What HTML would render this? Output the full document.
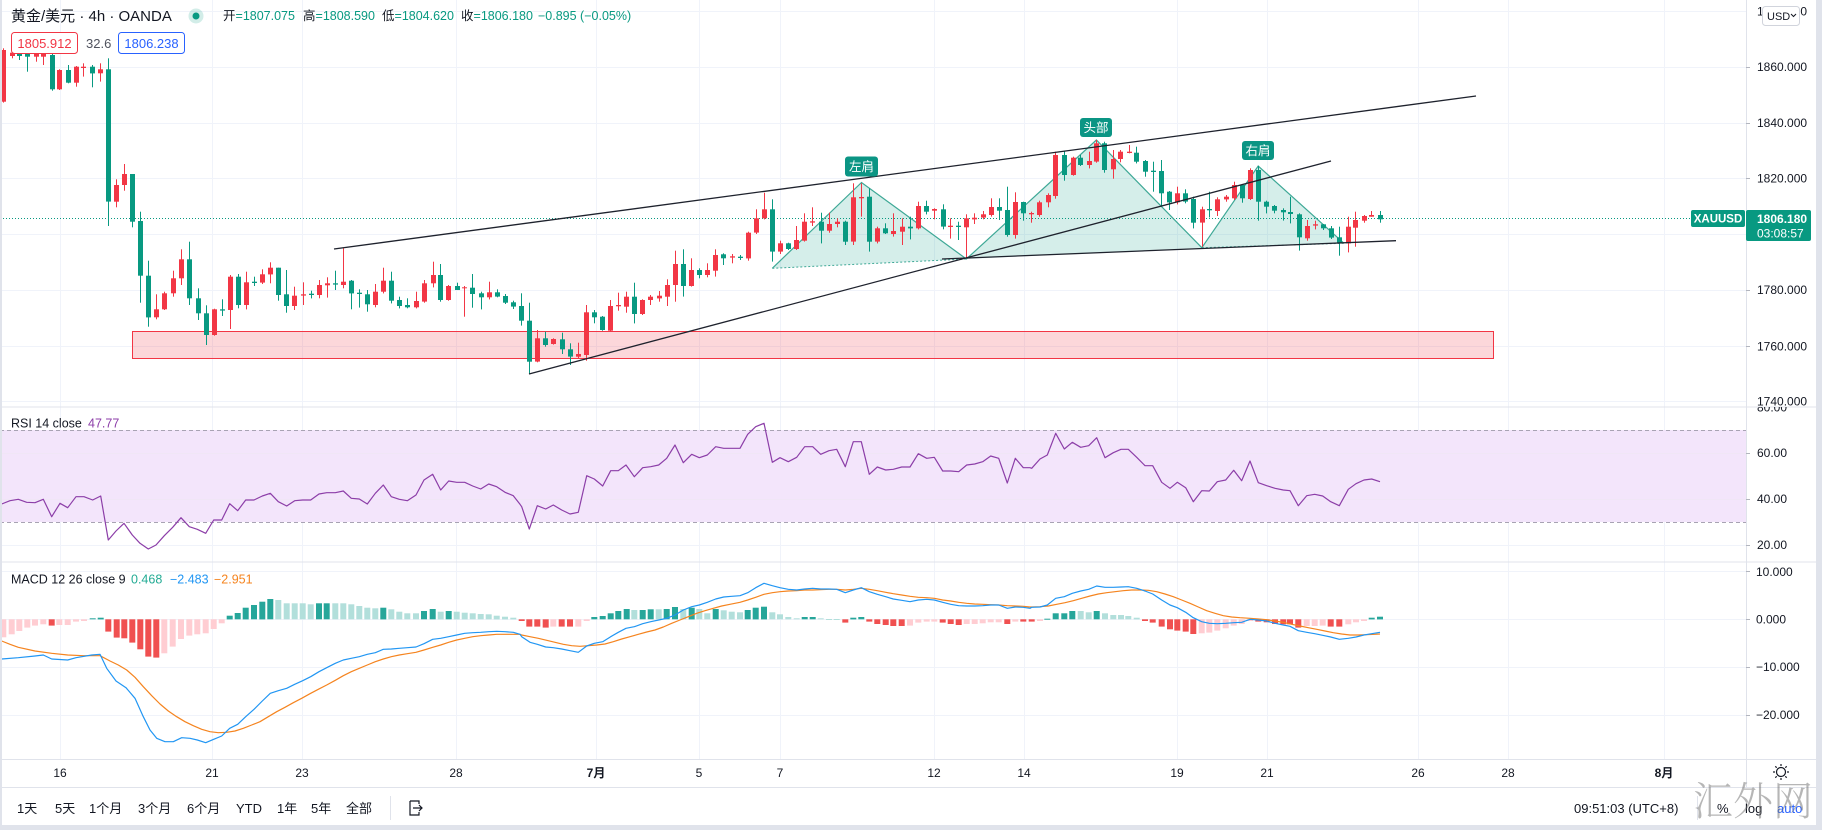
<!DOCTYPE html>
<html><head><meta charset="utf-8">
<style>
html,body{margin:0;padding:0;background:#fff;}
body{width:1822px;height:830px;overflow:hidden;position:relative;}
svg text{font-family:"Liberation Sans","Noto Sans CJK SC",sans-serif;}
</style></head><body>
<svg id="s" width="1822" height="830" viewBox="0 0 1822 830" xmlns="http://www.w3.org/2000/svg">
<defs>
<clipPath id="cp"><rect x="0" y="0" width="1746" height="407"/></clipPath>
<clipPath id="cr"><rect x="0" y="407" width="1746" height="155"/></clipPath>
<clipPath id="cm"><rect x="0" y="562" width="1746" height="197"/></clipPath>
<clipPath id="ap"><rect x="1746" y="0" width="70" height="407"/></clipPath>
<clipPath id="ar"><rect x="1746" y="407" width="70" height="155"/></clipPath>
<clipPath id="am"><rect x="1746" y="562" width="70" height="197"/></clipPath>
</defs>
<rect width="1822" height="830" fill="#fff"/>
<!-- grid -->
<g stroke="#f0f3fa" stroke-width="1">
<line x1="0" y1="11.5" x2="1746" y2="11.5"/><line x1="0" y1="67.5" x2="1746" y2="67.5"/>
<line x1="0" y1="123.5" x2="1746" y2="123.5"/><line x1="0" y1="178.5" x2="1746" y2="178.5"/>
<line x1="0" y1="234.5" x2="1746" y2="234.5"/><line x1="0" y1="290.5" x2="1746" y2="290.5"/>
<line x1="0" y1="346.5" x2="1746" y2="346.5"/><line x1="0" y1="401.5" x2="1746" y2="401.5"/>
<line x1="0" y1="545.5" x2="1746" y2="545.5"/>
<line x1="0" y1="571.5" x2="1746" y2="571.5"/><line x1="0" y1="619.5" x2="1746" y2="619.5"/>
<line x1="0" y1="667.5" x2="1746" y2="667.5"/><line x1="0" y1="715.5" x2="1746" y2="715.5"/>
</g>
<g id="vgrid" stroke="#f0f3fa" stroke-width="1"></g>
<!-- RSI band -->
<rect x="0" y="430" width="1746" height="92" fill="#f3e5fb"/>
<g stroke="#f0e6f6"><line x1="0" y1="453.5" x2="1746" y2="453.5"/><line x1="0" y1="499.5" x2="1746" y2="499.5"/></g>
<line x1="0" y1="430.5" x2="1746" y2="430.5" stroke="#a8a3b3" stroke-dasharray="4,3"/>
<line x1="0" y1="522.5" x2="1746" y2="522.5" stroke="#a8a3b3" stroke-dasharray="4,3"/>

<!-- price pane -->
<g clip-path="url(#cp)">
<rect x="132.5" y="331.5" width="1361" height="27" fill="rgba(242,54,69,0.2)" stroke="#f23645" stroke-width="1"/>
<line x1="0" y1="218.5" x2="1690" y2="218.5" stroke="#089981" stroke-width="1" stroke-dasharray="1,2"/>
<g fill="rgba(8,153,129,0.17)" stroke="none">
<polygon points="772.3,268.3 861.5,182.5 966.4,259"/>
<polygon points="966.4,259 1096.4,140 1201.8,247.7"/>
<polygon points="1201.8,247.7 1258.2,166 1344,243.3"/>
</g>
<polyline points="772.3,268.3 861.5,182.5 966.4,259 1096.4,140 1201.8,247.7 1258.2,166 1344,243.3" fill="none" stroke="#3ea896" stroke-width="1.2"/>
<line x1="772.3" y1="268.3" x2="966.4" y2="259" stroke="#3ea896" stroke-width="1" stroke-dasharray="2,2"/>
<line x1="1201.8" y1="247.7" x2="1344" y2="243.3" stroke="#3ea896" stroke-width="1" stroke-dasharray="2,2"/>
<g id="candles"></g>
<g stroke="#1e222d" stroke-width="1.3">
<line x1="334" y1="249" x2="1476" y2="96"/>
<line x1="529" y1="374" x2="1331" y2="161"/>
<line x1="942" y1="259" x2="1396" y2="240.7"/>
</g>
<g font-size="12.5" fill="#fff" text-anchor="middle">
<rect x="845" y="156.5" width="33" height="20" rx="3" fill="#0b9584"/><text x="861.5" y="171">左肩</text>
<rect x="1080" y="118" width="32" height="19" rx="3" fill="#0b9584"/><text x="1096" y="132">头部</text>
<rect x="1242" y="141" width="32" height="19" rx="3" fill="#0b9584"/><text x="1258" y="155">右肩</text>
</g>
</g>

<!-- RSI -->
<g clip-path="url(#cr)"><polyline id="rsi" fill="none" stroke="#8c3ea8" stroke-width="1.2" stroke-linejoin="round"/></g>
<!-- MACD -->
<g clip-path="url(#cm)">
<g id="hist"></g>
<polyline id="sig" fill="none" stroke="#f5841f" stroke-width="1.2" stroke-linejoin="round"/>
<polyline id="mac" fill="none" stroke="#2196f3" stroke-width="1.2" stroke-linejoin="round"/>
</g>

<!-- separators -->
<g stroke="#e0e3eb" stroke-width="1">
<line x1="0" y1="407" x2="1816" y2="407"/>
<line x1="0" y1="562" x2="1816" y2="562"/>
<line x1="0" y1="759.5" x2="1816" y2="759.5"/>
<line x1="0" y1="787.5" x2="1816" y2="787.5"/>
<line x1="1746.5" y1="0" x2="1746.5" y2="787"/>
</g>

<!-- axis labels -->
<g font-size="12" fill="#131722">
<g clip-path="url(#ap)">
<text x="1757" y="15.5">1880.000</text>
<text x="1757" y="71">1860.000</text>
<text x="1757" y="127">1840.000</text>
<text x="1757" y="182.5">1820.000</text>
<text x="1757" y="238">1800.000</text>
<text x="1757" y="294">1780.000</text>
<text x="1757" y="350.5">1760.000</text>
<text x="1757" y="405.5">1740.000</text>
</g>
<g clip-path="url(#ar)">
<text x="1757" y="411.5">80.00</text>
<text x="1757" y="457">60.00</text>
<text x="1757" y="503">40.00</text>
<text x="1757" y="549">20.00</text>
</g>
<g clip-path="url(#am)">
<text x="1756" y="576">10.000</text>
<text x="1756" y="623.5">0.000</text>
<text x="1756" y="671">−10.000</text>
<text x="1756" y="719">−20.000</text>
</g>
</g>
<g stroke="#b2b5be"><line x1="1746" y1="67.5" x2="1750" y2="67.5"/><line x1="1746" y1="123.5" x2="1750" y2="123.5"/><line x1="1746" y1="178.5" x2="1750" y2="178.5"/><line x1="1746" y1="290.5" x2="1750" y2="290.5"/><line x1="1746" y1="346.5" x2="1750" y2="346.5"/><line x1="1746" y1="453.5" x2="1750" y2="453.5"/><line x1="1746" y1="499.5" x2="1750" y2="499.5"/><line x1="1746" y1="545.5" x2="1750" y2="545.5"/><line x1="1746" y1="571.5" x2="1750" y2="571.5"/><line x1="1746" y1="619.5" x2="1750" y2="619.5"/><line x1="1746" y1="667.5" x2="1750" y2="667.5"/><line x1="1746" y1="715.5" x2="1750" y2="715.5"/></g>

<!-- USD button -->
<rect x="1762.5" y="6.5" width="37" height="19" rx="3" fill="#fff" stroke="#d1d4dc"/>
<text x="1767" y="20" font-size="11" fill="#131722">USD</text>
<path d="M1791 14 l2.5 2.5 l2.5 -2.5" fill="none" stroke="#131722" stroke-width="1"/>

<!-- price labels -->
<rect x="1691" y="210" width="54" height="17" rx="2" fill="#089981"/>
<text x="1718" y="222.5" font-size="11.5" font-weight="bold" fill="#fff" text-anchor="middle">XAUUSD</text>
<rect x="1746" y="210" width="65" height="31" rx="2" fill="#089981"/>
<text x="1757" y="223" font-size="12" font-weight="bold" fill="#fff">1806.180</text>
<text x="1757" y="237.5" font-size="12" fill="#fff">03:08:57</text>

<!-- legends -->
<text x="11" y="21" font-size="15" fill="#131722">黄金/美元 · 4h · OANDA</text>
<circle cx="196" cy="16" r="7.5" fill="rgba(8,153,129,0.18)"/>
<circle cx="196" cy="16" r="3.5" fill="#089981"/>
<g font-size="12.5">
<text x="223" y="20"><tspan fill="#131722">开</tspan><tspan fill="#089981">=1807.075</tspan></text>
<text x="303" y="20"><tspan fill="#131722">高</tspan><tspan fill="#089981">=1808.590</tspan></text>
<text x="382" y="20"><tspan fill="#131722">低</tspan><tspan fill="#089981">=1804.620</tspan></text>
<text x="461" y="20"><tspan fill="#131722">收</tspan><tspan fill="#089981">=1806.180</tspan></text>
<text x="538" y="20" fill="#089981">−0.895 (−0.05%)</text>
</g>
<rect x="11.5" y="32.5" width="66" height="21" rx="3" fill="#fff" stroke="#f23645"/>
<text x="44.5" y="48" font-size="13" fill="#f23645" text-anchor="middle">1805.912</text>
<text x="86" y="48" font-size="13" fill="#50535e">32.6</text>
<rect x="118.5" y="32.5" width="66" height="21" rx="3" fill="#fff" stroke="#2962ff"/>
<text x="151.5" y="48" font-size="13" fill="#2962ff" text-anchor="middle">1806.238</text>

<g font-size="12.5">
<text x="11" y="427.5" fill="#131722">RSI 14 close</text>
<text x="88" y="427.5" fill="#8c3ea8">47.77</text>
<text x="11" y="583.5" fill="#131722">MACD 12 26 close 9</text>
<text x="131" y="583.5" fill="#22ab94">0.468</text>
<text x="170" y="583.5" fill="#2196f3">−2.483</text>
<text x="214" y="583.5" fill="#f5841f">−2.951</text>
</g>

<!-- time axis -->
<g font-size="12" fill="#131722" text-anchor="middle">
<text x="60" y="777">16</text><text x="212" y="777">21</text><text x="302" y="777">23</text>
<text x="456" y="777">28</text><text x="596" y="777" font-weight="bold">7月</text><text x="699" y="777">5</text>
<text x="780" y="777">7</text><text x="934" y="777">12</text><text x="1024" y="777">14</text>
<text x="1177" y="777">19</text><text x="1267" y="777">21</text><text x="1418" y="777">26</text>
<text x="1508" y="777">28</text><text x="1664" y="777" font-weight="bold">8月</text>
</g>
<g transform="translate(1781,772)" stroke="#131722" stroke-width="1.2" fill="none">
<circle r="4.5"/>
<line x1="0" y1="-6" x2="0" y2="-8"/><line x1="0" y1="6" x2="0" y2="8"/>
<line x1="-6" y1="0" x2="-8" y2="0"/><line x1="6" y1="0" x2="8" y2="0"/>
<line x1="4.3" y1="4.3" x2="5.7" y2="5.7"/><line x1="-4.3" y1="-4.3" x2="-5.7" y2="-5.7"/>
<line x1="4.3" y1="-4.3" x2="5.7" y2="-5.7"/><line x1="-4.3" y1="4.3" x2="-5.7" y2="5.7"/>
</g>

<!-- toolbar -->
<g font-size="13" fill="#131722">
<text x="17" y="813">1天</text><text x="55" y="813">5天</text><text x="89" y="813">1个月</text>
<text x="138" y="813">3个月</text><text x="187" y="813">6个月</text><text x="236" y="813">YTD</text>
<text x="277" y="813">1年</text><text x="311" y="813">5年</text><text x="346" y="813">全部</text>
<text x="1574" y="813">09:51:03 (UTC+8)</text>
<text x="1717" y="813">%</text>
<text x="1745" y="813">log</text>
<text x="1777" y="813" fill="#2962ff">auto</text>
</g>
<line x1="390.5" y1="796" x2="390.5" y2="820" stroke="#e0e3eb"/>
<line x1="1697.5" y1="796" x2="1697.5" y2="820" stroke="#e0e3eb"/>
<path d="M410 801 h9 v3 M410 801 v14 h9 v-3 M413 808 h9 M419 805 l3 3 l-3 3" fill="none" stroke="#131722" stroke-width="1.2"/>
<text x="1693" y="815" font-size="40" fill="rgba(110,110,110,0.5)" style="font-family:'Noto Serif CJK SC','Liberation Serif',serif;font-weight:300">汇外网</text>

<!-- frame -->
<rect x="1816" y="0" width="6" height="830" fill="#e0e3eb"/>
<rect x="0" y="825" width="1822" height="5" fill="#e0e3eb"/>
<rect x="0" y="0" width="2" height="830" fill="#e0e3eb"/>
</svg>
<script>
(function(){
var NS='http://www.w3.org/2000/svg';
function el(t,a,p){var e=document.createElementNS(NS,t);for(var k in a)e.setAttribute(k,a[k]);p.appendChild(e);return e;}
var vg=document.getElementById('vgrid');
[60,212,302,456,596,699,780,934,1024,1177,1267,1418,1508,1664].forEach(function(x){el('line',{x1:x+0.5,y1:0,x2:x+0.5,y2:759},vg);});
var segs=[
{ox:0,oy:30,sx:3,sy:3,d:[
[10,'r',60,215,55,218],[35,'r',68,78,60,85],[58,'g',70,78,62,90],[82,'g',72,80,68,125],[107,'r',72,80,68,95],[130,'r',72,80,68,105],
[155,'g',75,178,72,182],[178,'r',120,178,118,180],[203,'g',120,158,105,160],[227,'r',110,158,108,170],[250,'r',110,114,100,140],
[276,'g',110,130,105,172],[300,'r',118,130,100,155],[325,'g',118,515,85,588],[349,'r',465,515,448,532],[373,'r',432,465,402,482],
[397,'g',432,575,432,592],[421,'g',573,737,545,818],[445,'g',737,862,692,890],[469,'r',838,862,793,868],[493,'r',790,838,785,840],
[519,'r',745,790,722,800],[544,'r',688,745,658,765],[568,'g',688,805,635,825],[593,'g',805,850,775,870],[617,'g',850,915,826,945],
[641,'r',838,915,836,917],[665,'g',838,842,808,858],[689,'r',740,840,735,897],[713,'g',740,825,732,835],[737,'r',757,825,725,838],
[763,'g',755,759,740,768],[787,'r',733,758,718,762],[811,'r',713,733,697,760],[835,'g',713,795,713,812],[859,'g',793,828,720,848],
[883,'r',797,828,770,840],[908,'r',793,797,757,825],[932,'g',791,795,782,805],[956,'r',765,795,750,805],[980,'r',760,766,742,803],
[1006,'g',760,764,722,780],[1030,'r',755,765,655,775],[1054,'g',752,790,750,838],[1078,'g',788,792,778,833],[1102,'g',793,823,780,845],
[1126,'r',785,825,762,832],[1150,'r',752,785,713,790],[1174,'g',752,812,725,820],[1198,'g',810,828,800,835],[1222,'g',825,832,805,835],
[1248,'r',813,832,785,835],[1272,'r',760,815,750,818],[1298,'r',735,760,695,772]]},
{ox:430,oy:150,sx:3,sy:3,d:[
[30,'g',375,450,342,455],[55,'r',408,450,405,452],[80,'g',408,420,398,420],[103,'r',412,415,408,500],[127,'g',413,432,372,473],
[152,'g',430,442,425,478],[176,'r',427,442,395,448],[201,'g',427,440,418,442],[226,'g',438,458,432,462],[250,'g',457,470,452,477],
[274,'g',468,512,430,527],[298,'g',512,635,458,672],[322,'r',565,635,540,637],[346,'g',565,585,545,590],[370,'r',567,582,565,584],
[395,'g',568,598,548,612],[419,'g',598,620,580,645],[443,'r',612,620,578,625],[468,'r',487,615,465,632],[493,'g',487,502,480,520],
[517,'g',500,540,498,542],[541,'r',468,542,450,545],[565,'r',465,469,428,482],[589,'r',440,470,425,488],[612,'g',440,492,398,520],
[637,'r',450,492,448,495],[661,'r',440,450,435,465],[687,'r',437,445,423,455],[711,'r',405,440,388,468],[736,'r',342,405,302,455],
[760,'g',342,408,298,440],[784,'r',360,408,325,410],[808,'g',360,375,355,385],[832,'r',360,375,340,382],[856,'r',315,362,298,380],
[880,'g',313,325,310,345],[905,'r',319,323,312,340],[930,'g',320,324,315,330],[955,'r',248,325,245,332],[979,'r',205,248,178,252],
[1003,'r',178,205,128,208],[1027,'g',178,305,148,335],[1051,'r',280,305,272,312],[1075,'g',280,297,278,300],[1099,'r',270,297,228,300],
[1123,'r',215,272,190,275],[1147,'r',214,218,172,228],[1173,'g',215,242,188,280],[1197,'r',222,242,188,248],[1221,'r',215,222,205,232],
[1246,'g',215,275,212,285],[1270,'r',142,275,100,285],[1294,'r',141,145,100,200]]},
{ox:860,oy:80,sx:2.8,sy:3,d:[
[25,'g',350,485,325,515],[48,'r',445,485,440,490],[70,'g',445,460,430,462],[93,'r',453,462,400,470],[118,'r',440,455,415,495],
[140,'g',440,445,410,478],[163,'r',378,445,365,448],[185,'g',378,395,362,403],[208,'r',387,392,385,418],[231,'g',388,440,373,448],
[253,'r',437,441,415,476],[275,'g',437,441,425,480],[298,'r',415,442,403,535],[320,'r',413,418,400,432],[345,'r',403,413,393,418],
[367,'r',381,405,355,410],[390,'g',381,392,355,420],[412,'g',390,465,320,470],[434,'r',366,465,337,476],[457,'g',366,400,365,422],
[480,'r',399,403,395,428],[502,'r',367,405,362,410],[525,'r',345,367,340,382],[547,'r',225,348,215,356],[572,'g',225,285,212,302],
[595,'r',233,285,230,287],[617,'g',233,255,225,258],[640,'r',243,255,215,265],[662,'r',190,245,180,248],[684,'g',190,270,185,278],
[707,'r',237,268,210,296],[729,'r',215,237,210,247],[752,'r',215,219,195,220],[774,'g',218,245,200,250],[797,'g',243,275,240,290],
[820,'g',272,276,245,335],[843,'g',273,340,240,380],[866,'g',335,367,333,390],[888,'r',340,367,320,373],[910,'g',340,365,328,370],
[933,'g',357,428,350,445],[957,'r',388,428,380,500],[978,'g',387,391,335,412],[1000,'r',358,393,352,408],[1024,'r',350,358,345,365],
[1047,'r',315,355,305,360],[1070,'g',315,355,312,368],[1093,'r',270,357,265,360],[1115,'g',270,365,258,422],[1138,'g',365,380,362,400],
[1160,'g',378,392,375,400],[1183,'g',390,397,385,422],[1205,'g',396,402,350,430],[1228,'g',403,472,400,512],[1252,'r',438,475,420,482],
[1274,'r',433,437,422,448],[1297,'g',433,445,432,450],[1320,'g',445,473,438,477],[1342,'g',472,490,440,527],[1365,'r',440,490,410,517],
[1387,'r',420,443,395,500],[1410,'r',408,422,405,428],[1432,'r',405,410,393,410],[1457,'g',405,418,393,428]]}
];
var cg=document.getElementById('candles');
segs.forEach(function(s){s.d.forEach(function(c){
  var x=Math.round(s.ox+c[0]/s.sx), col=c[1]=='r'?'#f23645':'#089981';
  var bt=s.oy+c[2]/s.sy, bb=s.oy+c[3]/s.sy, wt=s.oy+c[4]/s.sy, wb=s.oy+c[5]/s.sy;
  var t=Math.min(wt,bt), b=Math.max(wb,bb);
  el('rect',{x:x,y:t.toFixed(1),width:1,height:(b-t).toFixed(1),fill:col},cg);
  el('rect',{x:x-2,y:bt.toFixed(1),width:5,height:Math.max(1,bb-bt).toFixed(1),fill:col},cg);
});});

function join(parts){
  var out=[],last=-1e9;
  parts.forEach(function(p){p.pts.forEach(function(q){var x=p.ox+q[0]/3,y=405+q[1]/3;if(x>last+0.5){out.push(x.toFixed(1)+','+y.toFixed(1));last=x;}});});
  return out.join(' ');
}
var rsi8=[[5,297],[30,287],[55,283],[80,292],[105,293],[130,283],[155,335],[180,295],[203,308],[228,275],[252,275],[278,285],[302,273],[325,405],[348,378],[372,355],[397,390],[420,415],[445,432],[468,420],[493,392],[518,367],[543,338],[568,365],[592,373],[617,385],[641,345],[665,345],[689,296],[713,317],[737,285],[762,285],[787,273],[811,265],[835,290],[860,303],[884,287],[908,285],[932,285],[957,267],[980,263],[1006,263],[1030,258],[1054,280],[1078,282],[1102,297],[1126,265],[1150,240],[1174,275],[1198,283],[1222,287],[1248,270],[1272,225],[1298,208],[1322,255],[1346,228],[1370,232],[1394,232],[1418,243],[1442,252],[1466,237],[1490,245],[1515,262],[1540,272],[1560,298]];
var rsi9=[[0,268],[12,275],[35,305],[58,372],[82,302],[107,312],[130,300],[155,315],[180,327],[205,322],[230,212],[253,222],[278,243],[302,197],[325,197],[348,180],[373,215],[398,188],[422,185],[446,180],[470,160],[495,120],[520,173],[545,148],[568,158],[592,150],[617,125],[641,130],[665,130],[690,130],[713,88],[737,65],[762,55],[787,172],[810,158],[835,170],[860,157],[884,125],[908,125],[932,148],[957,137],[980,133],[1006,185],[1030,110],[1054,110],[1078,208],[1102,186],[1127,195],[1150,193],[1175,186],[1200,186],[1225,146],[1250,160],[1273,157],[1298,198],[1322,198],[1346,200],[1370,180],[1394,177],[1418,170],[1442,153],[1466,160],[1492,234],[1516,160],[1540,188],[1560,188]];
var rsi10=[[0,178],[12,188],[35,190],[60,162],[82,150],[107,85],[133,132],[157,112],[182,127],[206,122],[230,98],[255,158],[280,143],[303,133],[325,133],[350,157],[375,182],[398,182],[425,232],[450,250],[472,232],[497,248],[520,290],[545,257],[568,258],[592,230],[617,225],[641,196],[665,227],[690,168],[715,233],[740,242],[765,250],[790,255],[810,257],[835,302],[860,272],[884,268],[908,273],[932,290],[958,302],[985,253],[1008,236],[1032,225],[1055,222],[1080,230]];
document.getElementById('rsi').setAttribute('points',join([{ox:0,pts:rsi8},{ox:510,pts:rsi9},{ox:1020,pts:rsi10}]));

var b8=[[5,762],[55,758],[105,753],[130,750],[155,762],[203,765],[228,758],[275,750],[300,748],[320,790],[348,828],[378,848],[405,880],[430,935],[450,975],[470,1000],[495,1010],[520,1010],[545,998],[570,1000],[592,1005],[617,1013],[641,1003],[665,993],[689,970],[713,958],[737,935],[762,913],[787,888],[811,865],[835,857],[860,850],[884,838],[908,827],[932,815],[957,800],[980,788],[1006,775],[1030,765],[1054,760],[1078,755],[1102,748],[1126,743],[1150,733],[1174,732],[1198,730],[1222,728],[1248,726],[1272,716],[1298,703],[1322,700],[1346,695],[1370,690],[1394,685],[1418,683],[1442,682],[1466,680],[1490,679],[1515,680],[1540,682],[1560,688]];
var o8=[[5,708],[30,718],[55,727],[105,738],[155,745],[203,750],[250,752],[300,752],[330,768],[355,780],[380,795],[405,817],[430,845],[455,872],[480,897],[505,918],[530,935],[555,950],[580,962],[605,973],[630,980],[655,983],[680,982],[705,978],[730,970],[755,960],[780,950],[805,935],[830,920],[855,907],[880,893],[905,880],[930,866],[955,853],[980,840],[1006,826],[1030,812],[1054,800],[1078,790],[1102,780],[1126,770],[1150,762],[1174,755],[1198,750],[1222,746],[1248,742],[1272,735],[1298,727],[1322,720],[1346,712],[1370,705],[1394,700],[1418,695],[1442,692],[1466,690],[1490,688],[1515,688],[1540,688],[1560,688]];
var b9=[[0,682],[12,685],[35,695],[60,712],[82,718],[107,726],[130,728],[155,732],[180,737],[205,742],[230,723],[253,715],[278,710],[302,695],[325,682],[348,670],[373,665],[398,656],[422,650],[446,645],[470,640],[495,630],[520,615],[545,605],[568,600],[592,592],[617,582],[641,576],[665,574],[690,572],[713,563],[737,548],[762,535],[787,542],[810,548],[835,553],[860,555],[884,552],[908,550],[932,552],[957,552],[980,553],[1006,563],[1030,555],[1054,548],[1078,560],[1102,568],[1127,575],[1150,582],[1175,586],[1200,590],[1225,585],[1250,583],[1273,585],[1298,592],[1322,598],[1346,602],[1370,603],[1394,603],[1418,602],[1442,600],[1466,600],[1492,610],[1516,606],[1540,607],[1560,610]];
var o9=[[0,688],[35,690],[60,695],[85,700],[110,706],[135,712],[160,718],[185,722],[210,724],[235,722],[260,720],[285,717],[310,710],[335,702],[360,695],[385,688],[410,681],[435,675],[460,666],[485,655],[510,645],[535,635],[560,625],[585,617],[610,610],[635,603],[660,598],[690,592],[713,585],[737,577],[762,568],[787,563],[810,560],[835,558],[860,557],[884,555],[908,555],[932,554],[957,553],[980,553],[1006,555],[1030,553],[1054,550],[1078,553],[1102,557],[1127,562],[1150,566],[1175,570],[1200,574],[1225,577],[1250,578],[1273,580],[1298,585],[1322,588],[1346,592],[1370,595],[1394,597],[1418,598],[1442,599],[1466,600],[1492,602],[1516,603],[1540,604],[1560,606]];
var b10=[[0,605],[35,607],[60,606],[82,600],[107,580],[133,575],[157,565],[182,558],[206,553],[230,543],[255,547],[280,547],[303,546],[325,545],[350,550],[375,558],[398,567],[425,585],[450,600],[472,608],[497,622],[520,638],[545,650],[568,655],[592,656],[617,655],[641,653],[665,652],[690,643],[715,645],[740,648],[765,655],[790,660],[810,664],[835,677],[860,682],[884,686],[908,691],[932,696],[958,703],[985,700],[1008,696],[1032,690],[1055,686],[1080,682]];
var o10=[[0,604],[35,606],[60,605],[85,603],[110,598],[135,593],[160,587],[185,580],[210,573],[235,567],[260,563],[285,560],[310,557],[335,555],[360,555],[385,556],[410,560],[435,567],[460,575],[485,585],[510,595],[535,606],[560,617],[585,625],[610,632],[635,636],[660,638],[690,640],[715,642],[740,644],[765,648],[790,652],[815,658],[840,663],[865,668],[890,673],[915,678],[940,683],[965,687],[990,690],[1015,690],[1040,689],[1065,688],[1080,687]];
document.getElementById('mac').setAttribute('points',join([{ox:0,pts:b8},{ox:510,pts:b9},{ox:1020,pts:b10}]));
document.getElementById('sig').setAttribute('points',join([{ox:0,pts:o8},{ox:510,pts:o9},{ox:1020,pts:o10}]));

var h8=[[10,'P',697],[35,'P',688],[58,'P',678],[82,'P',668],[105,'P',662],[130,'P',658],[155,'R',662],[178,'P',660],[203,'P',660],[228,'P',650],[252,'P',648],[278,'G',640],[302,'G',638],[325,'R',680],[350,'R',698],[373,'R',700],[397,'R',713],[421,'R',733],[445,'R',755],[469,'R',758],[493,'P',745],[518,'P',725],[543,'P',702],[568,'P',692],[592,'P',688],[617,'P',685],[641,'P',672],[665,'P',655],[689,'G',632],[713,'G',624],[737,'G',608],[762,'G',600],[787,'G',590],[811,'G',582],[835,'L',585],[860,'L',595],[884,'L',595],[908,'L',595],[932,'L',598],[957,'G',595],[980,'G',595],[1006,'L',595],[1030,'L',595],[1054,'L',598],[1078,'L',603],[1102,'L',608],[1126,'L',610],[1150,'G',608],[1174,'L',613],[1198,'L',620],[1222,'L',625],[1248,'L',625],[1272,'G',618],[1298,'G',612],[1322,'L',620],[1346,'G',618],[1370,'L',620],[1394,'L',623],[1418,'L',625],[1442,'L',627],[1466,'L',628],[1490,'L',632],[1515,'L',635],[1540,'L',638]];
var h9=[[35,'R',648],[58,'R',665],[82,'R',665],[107,'R',668],[130,'P',665],[155,'R',665],[180,'R',665],[205,'P',665],[230,'P',648],[253,'G',636],[278,'G',633],[302,'G',625],[325,'G',618],[350,'G',612],[373,'L',615],[398,'G',615],[422,'G',613],[446,'L',613],[470,'G',612],[495,'G',606],[520,'L',612],[545,'G',608],[568,'L',612],[592,'L',625],[617,'G',612],[641,'L',616],[665,'L',620],[690,'L',622],[713,'G',615],[737,'G',608],[762,'G',605],[787,'L',622],[810,'L',628],[835,'L',636],[860,'L',640],[884,'G',636],[908,'G',636],[932,'L',640],[957,'L',642],[980,'L',642],[1006,'R',653],[1030,'G',638],[1054,'G',636],[1078,'R',650],[1102,'R',657],[1127,'R',660],[1150,'R',663],[1175,'R',663],[1200,'P',662],[1225,'P',653],[1250,'P',650],[1273,'P',650],[1298,'R',653],[1322,'R',657],[1346,'R',660],[1370,'P',657],[1394,'P',657],[1418,'P',655],[1442,'P',652],[1466,'P',652],[1492,'R',657],[1516,'P',650],[1540,'R',650]];
var h10=[[35,'R',650],[60,'P',648],[82,'G',641],[107,'G',625],[133,'G',625],[157,'G',618],[182,'L',618],[206,'L',622],[230,'G',618],[255,'L',625],[280,'L',630],[303,'L',630],[325,'L',633],[350,'L',638],[375,'R',648],[398,'R',653],[425,'R',665],[450,'R',673],[472,'R',677],[497,'R',680],[520,'R',687],[545,'P',685],[568,'P',683],[592,'P',677],[617,'P',670],[641,'P',662],[665,'P',657],[690,'P',648],[715,'R',650],[740,'R',652],[765,'R',657],[790,'R',658],[810,'R',658],[835,'R',668],[860,'P',663],[884,'P',663],[908,'P',662],[932,'R',665],[958,'R',665],[985,'P',658],[1008,'P',652],[1032,'P',648],[1055,'G',638],[1080,'G',635]];
var cols={P:'#ffcdd2',R:'#f05050',G:'#26a69a',L:'#b2dfdb'};
var hg=document.getElementById('hist'),z=405+643/3,lastx=-1e9;
[[0,h8],[510,h9],[1020,h10]].forEach(function(p){p[1].forEach(function(h){
  var x=p[0]+h[0]/3; if(x<lastx+4)return; lastx=x;
  var y=405+h[2]/3, t=Math.min(y,z), b=Math.max(y,z);
  el('rect',{x:(x-3).toFixed(1),y:t.toFixed(1),width:6,height:Math.max(1,b-t).toFixed(1),fill:cols[h[1]]},hg);
});});
})();
</script>
</body></html>
